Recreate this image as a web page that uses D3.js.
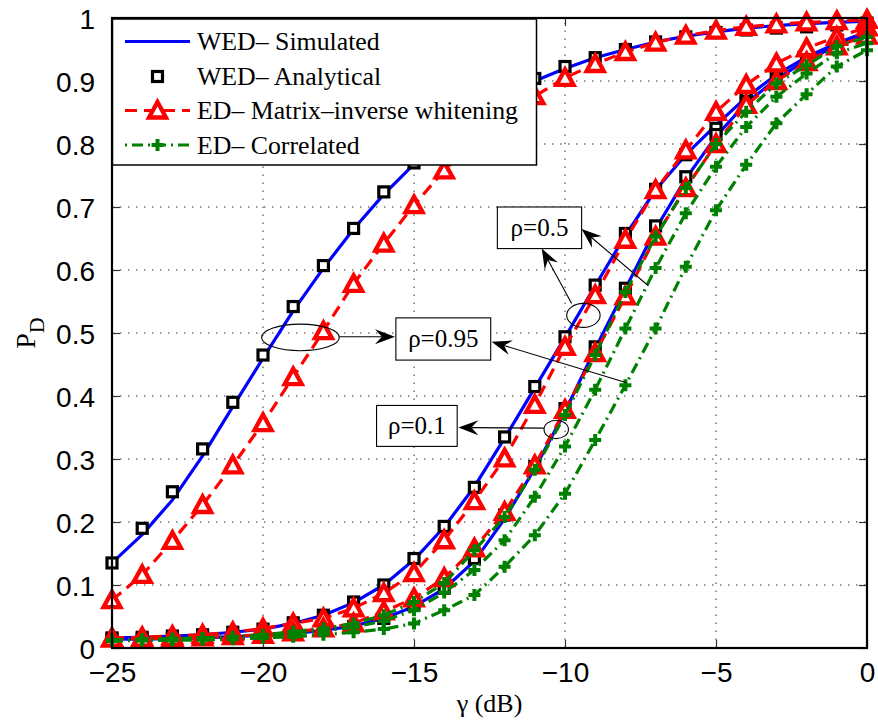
<!DOCTYPE html>
<html><head><meta charset="utf-8">
<script src="https://cdn.jsdelivr.net/npm/d3@7"></script>
<style>body{margin:0;background:#fff}svg{display:block}</style>
</head><body>
<svg id="chart" width="878" height="721"></svg>
<script>
// ---- data ----
const gammaDb = [-25,-24,-23,-22,-21,-20,-19,-18,-17,-16,-15,-14,-13,-12,-11,-10,-9,-8,-7,-6,-5,-4,-3,-2,-1,0];
// rho = 0.95
const wedSim095 = [0.135,0.180,0.235,0.305,0.383,0.460,0.535,0.603,0.665,0.720,0.768,0.808,0.843,0.874,0.900,0.920,0.937,0.950,0.962,0.971,0.978,0.984,0.988,0.991,0.993,0.995];
const wedAna095 = [0.135,0.190,0.248,0.316,0.390,0.465,0.542,0.607,0.666,0.724,0.770,0.810,0.845,0.875,0.904,0.923,0.937,0.950,0.962,0.970,0.977,0.981,0.984,0.986,0.989,0.992];
const edMiw095  = [0.076,0.116,0.170,0.227,0.290,0.357,0.430,0.503,0.578,0.642,0.703,0.758,0.805,0.845,0.876,0.905,0.927,0.946,0.961,0.972,0.980,0.986,0.990,0.993,0.995,0.997];
const edCor095  = [0.011,0.012,0.012,0.013,0.014,0.016,0.018,0.021,0.025,0.030,0.039,0.060,0.084,0.129,0.179,0.245,0.330,0.417,0.507,0.605,0.695,0.767,0.833,0.879,0.923,0.949];
// rho = 0.5
const wedSim05 = [0.016,0.017,0.019,0.021,0.025,0.030,0.039,0.052,0.072,0.100,0.140,0.192,0.256,0.333,0.413,0.493,0.575,0.655,0.727,0.783,0.830,0.874,0.910,0.938,0.960,0.978];
const wedAna05 = [0.016,0.017,0.019,0.021,0.025,0.030,0.040,0.052,0.073,0.100,0.142,0.193,0.255,0.335,0.415,0.494,0.576,0.658,0.728,0.783,0.825,0.877,0.912,0.939,0.958,0.978];
const edMiw05  = [0.016,0.017,0.019,0.021,0.025,0.031,0.039,0.047,0.063,0.087,0.119,0.171,0.233,0.301,0.386,0.478,0.560,0.648,0.727,0.790,0.851,0.894,0.928,0.952,0.970,0.985];
const edCor05  = [0.012,0.013,0.014,0.015,0.016,0.019,0.022,0.027,0.033,0.043,0.060,0.088,0.124,0.171,0.240,0.320,0.410,0.507,0.603,0.690,0.764,0.827,0.875,0.912,0.944,0.960];
// rho = 0.1
const wedSim01 = [0.014,0.014,0.015,0.016,0.018,0.020,0.023,0.028,0.035,0.047,0.066,0.094,0.138,0.205,0.285,0.375,0.475,0.570,0.665,0.745,0.812,0.865,0.903,0.933,0.956,0.975];
const wedAna01 = [0.014,0.014,0.015,0.016,0.018,0.020,0.023,0.028,0.034,0.047,0.068,0.095,0.142,0.211,0.288,0.380,0.478,0.571,0.670,0.748,0.815,0.868,0.905,0.935,0.958,0.978];
const edMiw01  = [0.015,0.015,0.016,0.017,0.019,0.021,0.025,0.031,0.039,0.058,0.079,0.111,0.158,0.216,0.290,0.378,0.468,0.558,0.653,0.730,0.800,0.862,0.900,0.930,0.955,0.972];
const edCor01  = [0.013,0.014,0.015,0.016,0.018,0.021,0.026,0.031,0.039,0.052,0.073,0.103,0.155,0.208,0.283,0.370,0.465,0.565,0.653,0.730,0.800,0.851,0.896,0.925,0.955,0.970];

const xTicks = [-25,-20,-15,-10,-5,0];
const yTicks = [0,0.1,0.2,0.3,0.4,0.5,0.6,0.7,0.8,0.9,1];
const legendLabels = ["WED\u2013 Simulated","WED\u2013 Analytical","ED\u2013 Matrix\u2013inverse whitening","ED\u2013 Correlated"];
const xLabel = "\u03b3 (dB)";

// annotations (data units)
const annoBoxes = [
  {label:"\u03c1=0.95", x0:-15.60, x1:-12.46, y0:0.524, y1:0.457},
  {label:"\u03c1=0.5",  x0:-12.24, x1:-9.45,  y0:0.700, y1:0.634},
  {label:"\u03c1=0.1",  x0:-16.24, x1:-13.57, y0:0.385, y1:0.320}
];
const annoEllipses = [
  {cx:-18.76, cy:0.493, rx:1.285, ry:0.0211},
  {cx:-9.39,  cy:0.528, rx:0.553, ry:0.019},
  {cx:-10.29, cy:0.347, rx:0.404, ry:0.0146}
];
const annoArrows = [
  {from:[-17.47,0.494], to:[-15.63,0.494]},
  {from:[-7.96,0.421],  to:[-12.43,0.486]},
  {from:[-9.78,0.547],  to:[-10.77,0.634]},
  {from:[-7.24,0.575],  to:[-9.45,0.665]},
  {from:[-10.70,0.349], to:[-13.53,0.350]}
];

// ---- drawing ----
const svg = d3.select("#chart");
const W = 878, H = 721;
const m = {left:112, right:11, top:18, bottom:73};
const x = d3.scaleLinear().domain([-25,0]).range([m.left, W-m.right]);
const y = d3.scaleLinear().domain([0,1]).range([H-m.bottom, m.top]);

const BLUE="#0000ff", RED="#ff0000", GREEN="#008000";
const serif = "'Liberation Serif','Times New Roman',serif";
const sans = "'Liberation Sans',Arial,Helvetica,sans-serif";

svg.append("rect").attr("width",W).attr("height",H).attr("fill","#fff");

// grid
const grid = svg.append("g").attr("stroke","#333").attr("stroke-width",1).attr("stroke-dasharray","1.5,6.5");
grid.selectAll(".gx").data(xTicks.slice(1,-1)).enter().append("line")
  .attr("x1",d=>x(d)).attr("x2",d=>x(d)).attr("y1",y(0)).attr("y2",y(1));
grid.selectAll(".gy").data(yTicks.slice(1,-1)).enter().append("line")
  .attr("y1",d=>y(d)).attr("y2",d=>y(d)).attr("x1",x(-25)).attr("x2",x(0));

// axes with inward ticks on all sides
const fmtY = d => d3.format("")(d);
const axB = svg.append("g").attr("transform",`translate(0,${y(0)})`)
  .call(d3.axisBottom(x).tickValues(xTicks).tickSizeInner(-8).tickSizeOuter(0).tickPadding(14).tickFormat(d=>d===0?"0":d3.format("")(d)));
const axL = svg.append("g").attr("transform",`translate(${x(-25)},0)`)
  .call(d3.axisLeft(y).tickValues(yTicks).tickSizeInner(-8).tickSizeOuter(0).tickPadding(17).tickFormat(fmtY));
const axT = svg.append("g").attr("transform",`translate(0,${y(1)})`)
  .call(d3.axisTop(x).tickValues(xTicks).tickSizeInner(-8).tickSizeOuter(0).tickFormat(""));
const axR = svg.append("g").attr("transform",`translate(${x(0)},0)`)
  .call(d3.axisRight(y).tickValues(yTicks).tickSizeInner(-8).tickSizeOuter(0).tickFormat(""));
[axB,axL,axT,axR].forEach(a=>{
  a.select(".domain").remove();
  a.selectAll(".tick line").attr("stroke","#333").attr("stroke-width",1.2);
  a.selectAll("text").attr("font-family",sans).attr("font-size",28).attr("fill","#000");
});
axB.selectAll("text").attr("dy","0.71em");
axL.selectAll("text").attr("dy","0.36em");

// series
const pts = arr => gammaDb.map((g,i)=>[g,arr[i]]);
const line = d3.line().x(d=>x(d[0])).y(d=>y(d[1]));
const plot = svg.append("g");

const blueSeries = [wedSim095, wedSim05, wedSim01];
const squareSeries = [wedAna095, wedAna05, wedAna01];
const redSeries = [edMiw095, edMiw05, edMiw01];
const greenSeries = [edCor095, edCor05, edCor01];

blueSeries.forEach(s=>{
  plot.append("path").datum(pts(s)).attr("d",line).attr("fill","none")
    .attr("stroke",BLUE).attr("stroke-width",3.2).attr("stroke-linejoin","round");
});

function drawSquares(g, data){
  g.selectAll(null).data(data).enter().append("rect")
    .attr("x",d=>x(d[0])-5).attr("y",d=>y(d[1])-5).attr("width",10).attr("height",10)
    .attr("fill","#fff").attr("stroke","#000").attr("stroke-width",3.2);
}
const triPath = "M0,-8.5 L8.5,7 L-8.5,7 Z";
function drawTriangles(g, data){
  g.selectAll(null).data(data).enter().append("path")
    .attr("d",triPath).attr("transform",d=>`translate(${x(d[0])},${y(d[1])})`)
    .attr("fill","#fff").attr("stroke",RED).attr("stroke-width",4.3).attr("stroke-linejoin","miter");
}
const plusPath = "M-6,0 L6,0 M0,-6 L0,6";
function drawPlus(g, data){
  g.selectAll(null).data(data).enter().append("path")
    .attr("d",plusPath).attr("transform",d=>`translate(${x(d[0])},${y(d[1])})`)
    .attr("fill","none").attr("stroke",GREEN).attr("stroke-width",4);
}

squareSeries.forEach(s=>drawSquares(plot.append("g"), pts(s)));
redSeries.forEach(s=>{
  plot.append("path").datum(pts(s)).attr("d",line).attr("fill","none")
    .attr("stroke",RED).attr("stroke-width",3.2).attr("stroke-dasharray","12,7");
  drawTriangles(plot.append("g"), pts(s));
});
greenSeries.forEach(s=>{
  plot.append("path").datum(pts(s)).attr("d",line).attr("fill","none")
    .attr("stroke",GREEN).attr("stroke-width",3.2).attr("stroke-dasharray","11,5,2,5");
  drawPlus(plot.append("g"), pts(s));
});

// annotations
const ann = svg.append("g");
annoEllipses.forEach(e=>{
  ann.append("ellipse").attr("cx",x(e.cx)).attr("cy",y(e.cy))
    .attr("rx",x(e.cx+e.rx)-x(e.cx)).attr("ry",y(e.cy)-y(e.cy+e.ry))
    .attr("fill","none").attr("stroke","#000").attr("stroke-width",1.1);
});
annoArrows.forEach(a=>{
  const x1=x(a.from[0]), y1=y(a.from[1]), x2=x(a.to[0]), y2=y(a.to[1]);
  const ang = Math.atan2(y2-y1, x2-x1);
  const L=20, hw=7.5, notch=13;
  ann.append("line").attr("x1",x1).attr("y1",y1)
    .attr("x2",x2-Math.cos(ang)*notch).attr("y2",y2-Math.sin(ang)*notch)
    .attr("stroke","#000").attr("stroke-width",1.1);
  ann.append("path").attr("d",`M0,0 L${-L},${-hw} L${-notch},0 L${-L},${hw} Z`)
    .attr("transform",`translate(${x2},${y2}) rotate(${ang*180/Math.PI})`)
    .attr("fill","#000");
});
annoBoxes.forEach(b=>{
  const bx=x(b.x0), by=y(b.y0), bw=x(b.x1)-x(b.x0), bh=y(b.y1)-y(b.y0);
  ann.append("rect").attr("x",bx).attr("y",by).attr("width",bw).attr("height",bh)
    .attr("fill","#fff").attr("stroke","#000").attr("stroke-width",1.1);
  ann.append("text").attr("x",bx+bw/2).attr("y",by+bh/2).attr("dy","0.33em")
    .attr("text-anchor","middle").attr("font-family",serif).attr("font-size",25)
    .text(b.label);
});

// axis box
svg.append("rect").attr("x",x(-25)).attr("y",y(1)).attr("width",x(0)-x(-25)).attr("height",y(0)-y(1))
  .attr("fill","none").attr("stroke","#000").attr("stroke-width",2.2);

// legend
const lg = svg.append("g");
lg.append("rect").attr("x",112.5).attr("y",19).attr("width",424).attr("height",146)
  .attr("fill","#fff").attr("stroke","#000").attr("stroke-width",1.5);
const rowY = [41.5, 76.5, 110.5, 145];
const lx0=125, lx1=190, lxc=(lx0+lx1)/2;
lg.append("line").attr("x1",lx0).attr("x2",lx1).attr("y1",rowY[0]).attr("y2",rowY[0]).attr("stroke",BLUE).attr("stroke-width",3.2);
drawSquares(lg.append("g"), [[x.invert(lxc), y.invert(rowY[1])]]);
lg.append("line").attr("x1",lx0).attr("x2",lx1).attr("y1",rowY[2]).attr("y2",rowY[2]).attr("stroke",RED).attr("stroke-width",3.2).attr("stroke-dasharray","12,7");
drawTriangles(lg.append("g"), [[x.invert(lxc), y.invert(rowY[2])]]);
lg.append("line").attr("x1",lx0).attr("x2",lx1).attr("y1",rowY[3]).attr("y2",rowY[3]).attr("stroke",GREEN).attr("stroke-width",3.2).attr("stroke-dasharray","2,5,11,5");
drawPlus(lg.append("g"), [[x.invert(lxc), y.invert(rowY[3])]]);
legendLabels.forEach((t,i)=>{
  lg.append("text").attr("x",197).attr("y",rowY[i]).attr("dy","0.33em")
    .attr("font-family",serif).attr("font-size",25.8).text(t);
});

// axis labels
svg.append("text").attr("x",(x(-25)+x(0))/2).attr("y",712).attr("text-anchor","middle")
  .attr("font-family",serif).attr("font-size",26).text(xLabel);
const yl = svg.append("text").attr("transform",`translate(35,${y(0.5)}) rotate(-90)`)
  .attr("text-anchor","middle").attr("font-family",serif).attr("font-size",28);
yl.append("tspan").text("P");
yl.append("tspan").attr("dy",9).attr("font-size",22).text("D");
</script>
</body></html>
